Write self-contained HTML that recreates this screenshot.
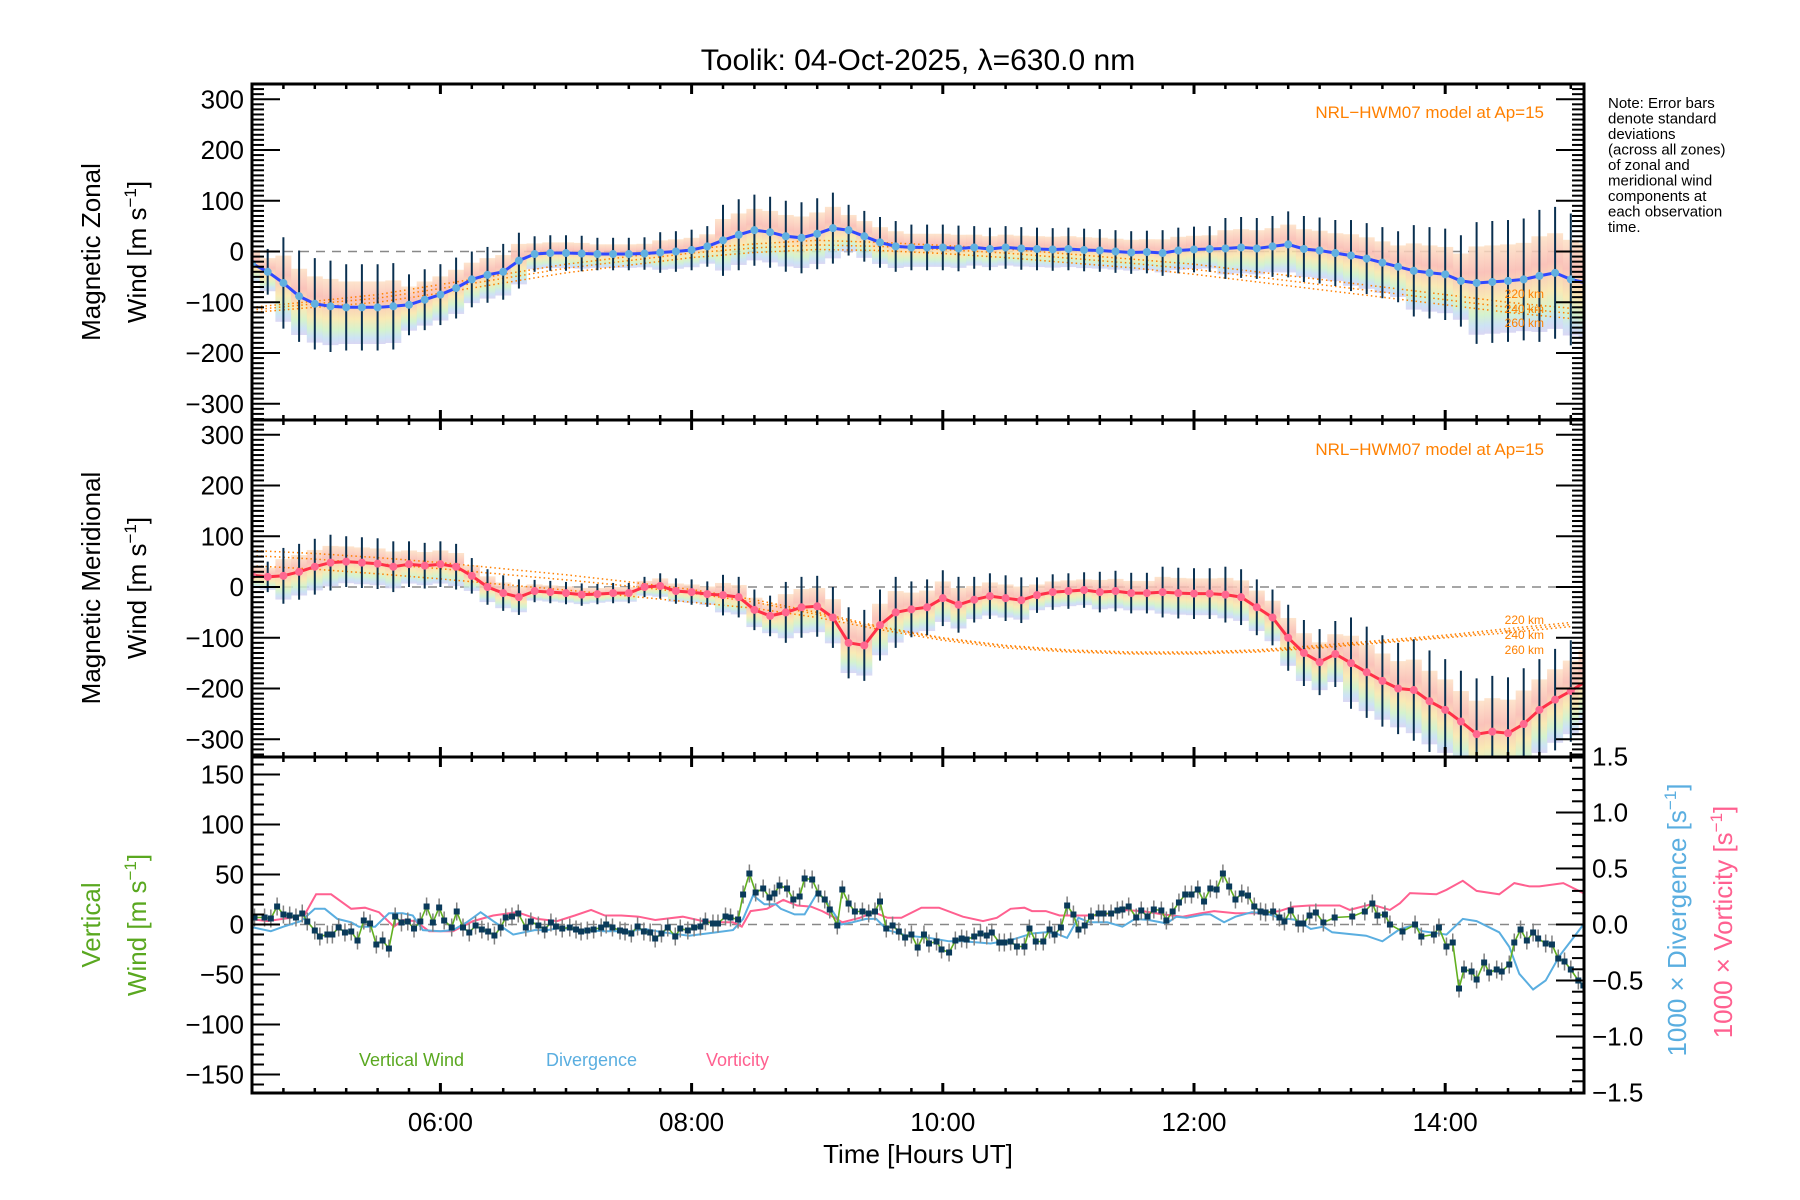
<!DOCTYPE html>
<html><head><meta charset="utf-8"><title>Toolik winds</title>
<style>
html,body{margin:0;padding:0;background:#fff;}
svg{display:block;font-family:"Liberation Sans",sans-serif;}
</style></head>
<body>
<svg id="chart" width="1800" height="1200" viewBox="0 0 1800 1200" xmlns="http://www.w3.org/2000/svg">
<defs>
<linearGradient id="pastel" x1="0" y1="0" x2="0" y2="1">
<stop offset="0" stop-color="#fde0c4"/><stop offset="0.3" stop-color="#f9b8ae"/>
<stop offset="0.6" stop-color="#f8e6a8"/><stop offset="0.78" stop-color="#cdf0c6"/>
<stop offset="0.9" stop-color="#c4def2"/><stop offset="1" stop-color="#d4d0f2"/>
</linearGradient>
<clipPath id="c1"><rect x="252" y="84" width="1332" height="336"/></clipPath>
<clipPath id="c2"><rect x="252" y="420" width="1332" height="337"/></clipPath>
<clipPath id="c3"><rect x="252" y="757" width="1332" height="336"/></clipPath>
</defs>
<text x="918" y="70" font-size="30" text-anchor="middle">Toolik: 04-Oct-2025, λ=630.0 nm</text>
<g id="p1" clip-path="url(#c1)"></g>
<g id="p2" clip-path="url(#c2)"></g>
<g id="p3" clip-path="url(#c3)"></g>
<g id="axes"></g>
<g font-size="26">
<text transform="translate(100,252) rotate(-90)" text-anchor="middle">Magnetic Zonal</text>
<text transform="translate(146,252) rotate(-90)" text-anchor="middle">Wind [m s<tspan dy="-10" font-size="17">−1</tspan><tspan dy="10">]</tspan></text>
<text transform="translate(100,588) rotate(-90)" text-anchor="middle">Magnetic Meridional</text>
<text transform="translate(146,588) rotate(-90)" text-anchor="middle">Wind [m s<tspan dy="-10" font-size="17">−1</tspan><tspan dy="10">]</tspan></text>
<text fill="#5aa820" transform="translate(100,925) rotate(-90)" text-anchor="middle">Vertical</text>
<text fill="#5aa820" transform="translate(146,925) rotate(-90)" text-anchor="middle">Wind [m s<tspan dy="-10" font-size="17">−1</tspan><tspan dy="10">]</tspan></text>
</g>
<g font-size="26">
<text fill="#5aaee0" transform="translate(1686,920) rotate(-90)" text-anchor="middle">1000 × Divergence [s<tspan dy="-10" font-size="17">−1</tspan><tspan dy="10">]</tspan></text>
<text fill="#ff6090" transform="translate(1732,922) rotate(-90)" text-anchor="middle">1000 × Vorticity [s<tspan dy="-10" font-size="17">−1</tspan><tspan dy="10">]</tspan></text>
</g>
<g font-size="15">
<text x="1608" y="108">Note: Error bars</text><text x="1608" y="123.5">denote standard</text>
<text x="1608" y="139">deviations</text><text x="1608" y="154.5">(across all zones)</text>
<text x="1608" y="170">of zonal and</text><text x="1608" y="185.5">meridional wind</text>
<text x="1608" y="201">components at</text><text x="1608" y="216.5">each observation</text>
<text x="1608" y="232">time.</text>
</g>
<g fill="#ff8000" font-size="17">
<text x="1544" y="118" text-anchor="end">NRL−HWM07 model at Ap=15</text>
<text x="1544" y="455" text-anchor="end">NRL−HWM07 model at Ap=15</text>
<g font-size="12">
<text x="1544" y="298" text-anchor="end">220 km</text><text x="1544" y="313" text-anchor="end">240 km</text><text x="1544" y="327" text-anchor="end">260 km</text>
<text x="1544" y="624" text-anchor="end">220 km</text><text x="1544" y="639" text-anchor="end">240 km</text><text x="1544" y="654" text-anchor="end">260 km</text>
</g>
</g>
<g font-size="18">
<text x="359" y="1066" fill="#5aa820">Vertical Wind</text>
<text x="546" y="1066" fill="#5aaee0">Divergence</text>
<text x="706" y="1066" fill="#ff6090">Vorticity</text>
</g>
<text x="918" y="1163" font-size="26" text-anchor="middle">Time [Hours UT]</text>
</svg>
<script>
// ---- data ----
const meanStart = 4.5, meanStep = 0.125, errStep = 0.5;
const zonalMean = [-24,-40,-62,-88,-103,-108,-110,-110,-110,-108,-105,-95,-85,-72,-55,-46,-40,-18,-5,-3,-3,-4,-5,-5,-5,-4,-2,0,3,10,22,33,42,38,30,27,35,46,42,30,18,10,8,8,8,6,8,5,8,6,5,4,5,3,2,0,-2,-1,-3,2,4,5,6,8,6,10,14,5,2,-3,-8,-14,-22,-30,-38,-42,-45,-58,-62,-60,-58,-55,-48,-42,-55,-62];
const zonalErr = [45,90,85,60,55,35,32,40,70,70,50,45,42,42,42,45,60,65,70,90,120,130];
const meridMean = [23,20,22,30,40,48,50,48,46,40,45,42,45,40,22,0,-12,-20,-8,-10,-12,-15,-14,-12,-12,0,2,-8,-10,-14,-16,-20,-45,-57,-50,-40,-38,-60,-110,-115,-75,-50,-44,-40,-22,-35,-25,-18,-22,-26,-16,-10,-8,-6,-10,-8,-12,-12,-10,-12,-13,-13,-15,-20,-40,-60,-100,-130,-148,-132,-150,-168,-185,-200,-203,-225,-242,-265,-290,-285,-288,-270,-242,-222,-205,-185];
const meridErr = [30,55,50,45,35,22,20,25,40,60,70,55,45,35,40,50,55,65,90,100,110,100];
const zonalModel220 = [-110,-98,-85,-65,-45,-25,-10,5,15,22,18,12,5,-5,-15,-25,-40,-55,-70,-85,-100,-112];
const zonalModel240 = [-115,-103,-92,-73,-53,-33,-18,-3,7,13,10,4,-3,-13,-23,-35,-50,-65,-80,-95,-110,-122];
const zonalModel260 = [-120,-110,-100,-82,-62,-42,-27,-12,-2,4,2,-4,-12,-22,-32,-45,-60,-75,-90,-105,-120,-132];
const meridModel220 = [72,66,58,48,36,24,10,-5,-25,-50,-78,-100,-115,-124,-128,-128,-124,-115,-105,-95,-82,-70];
const meridModel240 = [62,55,46,36,25,14,2,-12,-30,-54,-80,-102,-117,-126,-130,-130,-126,-118,-108,-98,-86,-74];
const meridModel260 = [42,35,26,16,5,-6,-18,-30,-42,-60,-84,-105,-120,-128,-132,-132,-128,-120,-110,-100,-90,-78];
const vertTimes = [4.52,4.6,4.65,4.7,4.75,4.8,4.85,4.9,4.94,5.0,5.04,5.1,5.14,5.19,5.24,5.29,5.34,5.39,5.44,5.49,5.54,5.59,5.64,5.69,5.74,5.79,5.84,5.89,5.94,5.99,6.03,6.09,6.13,6.18,6.23,6.28,6.33,6.38,6.43,6.48,6.52,6.57,6.62,6.68,6.72,6.78,6.83,6.88,6.92,6.97,7.03,7.08,7.12,7.17,7.22,7.28,7.32,7.37,7.43,7.47,7.52,7.57,7.62,7.67,7.71,7.76,7.81,7.87,7.91,7.97,8.02,8.07,8.11,8.17,8.21,8.27,8.31,8.37,8.41,8.46,8.51,8.57,8.62,8.66,8.7,8.76,8.81,8.86,8.9,8.96,9.01,9.06,9.1,9.16,9.2,9.25,9.3,9.36,9.41,9.46,9.5,9.55,9.6,9.65,9.7,9.75,9.8,9.85,9.89,9.95,9.99,10.05,10.1,10.15,10.19,10.25,10.3,10.35,10.39,10.45,10.49,10.54,10.59,10.65,10.69,10.74,10.8,10.85,10.89,10.94,10.99,11.04,11.08,11.13,11.18,11.24,11.28,11.34,11.39,11.43,11.48,11.54,11.58,11.63,11.68,11.74,11.78,11.83,11.88,11.93,11.98,12.03,12.08,12.13,12.18,12.23,12.28,12.33,12.38,12.43,12.48,12.53,12.57,12.63,12.68,12.72,12.77,12.83,12.87,12.92,12.97,13.03,13.12,13.26,13.36,13.42,13.46,13.52,13.56,13.66,13.76,13.81,13.91,13.95,14.01,14.06,14.11,14.15,14.21,14.25,14.31,14.35,14.41,14.45,14.51,14.55,14.6,14.65,14.7,14.74,14.8,14.85,14.9,14.95,15.0,15.06,15.1];
const vertValues = [7,7,6,18,10,9,7,11,3,-6,-12,-10,-10,-3,-8,-7,-16,4,1,-20,-16,-24,8,2,3,-4,3,18,2,17,4,-3,13,-3,-8,-1,-5,-7,-11,-3,7,8,11,-3,3,-1,-5,2,-2,-4,-3,-5,-7,-6,-5,-3,0,-3,-6,-7,-9,-2,-7,-8,-14,-9,-3,-12,-4,-6,-3,-2,3,1,1,8,7,5,30,51,32,36,27,31,39,36,25,28,46,45,31,25,15,-1,35,21,13,13,11,13,23,-4,-1,-7,-13,-10,-23,-10,-19,-17,-25,-28,-16,-14,-15,-12,-9,-11,-8,-18,-18,-17,-22,-22,-4,-17,-17,-5,-10,-3,19,10,-5,-1,8,11,11,11,14,15,18,7,14,8,15,14,4,13,22,30,30,35,23,36,35,51,38,25,31,29,18,13,12,13,7,3,14,1,1,9,12,2,7,8,13,21,9,10,0,-7,0,-12,-10,-3,-22,-18,-64,-45,-47,-55,-38,-48,-45,-47,-40,-18,-5,-16,-8,-14,-19,-20,-34,-37,-45,-56,-61];
const vertErr = 9;
const divTimes = [4.48,4.65,4.75,4.89,5.0,5.08,5.18,5.29,5.35,5.48,5.59,5.7,5.78,5.86,6.0,6.1,6.21,6.32,6.42,6.58,6.75,6.85,6.96,7.12,7.31,7.5,7.63,7.77,7.98,8.2,8.33,8.41,8.49,8.58,8.67,8.71,8.82,8.9,9.0,9.06,9.19,9.28,9.39,9.47,9.56,9.72,9.89,10.05,10.16,10.38,10.54,10.71,10.82,10.9,10.99,11.08,11.17,11.31,11.43,11.53,11.64,11.78,11.86,11.94,12.08,12.13,12.24,12.33,12.46,12.57,12.68,12.82,12.93,13.03,13.1,13.37,13.5,13.64,13.74,13.82,14.01,14.14,14.25,14.43,14.51,14.59,14.7,14.8,14.91,15.02,15.1];
const divValues = [-0.02,-0.06,-0.02,0.03,0.14,0.14,0.05,0.02,-0.02,-0.02,0.1,0.1,0.08,-0.05,-0.06,-0.05,0.02,0.11,0.03,-0.09,-0.05,-0.05,-0.03,-0.05,-0.06,-0.06,-0.04,-0.07,-0.1,-0.07,-0.05,0.05,0.26,0.18,0.18,0.14,0.09,0.09,0.28,0.23,0.0,0.02,0.05,0.05,-0.05,-0.1,-0.12,-0.15,-0.15,-0.17,-0.14,-0.08,-0.07,-0.08,-0.12,0.06,0.02,0.02,-0.02,0.05,0.04,0.01,0.07,0.06,0.09,0.09,0.02,0.07,0.11,0.1,0.06,0.04,-0.04,-0.02,-0.07,-0.1,-0.15,-0.04,-0.01,-0.06,-0.09,0.05,0.03,-0.07,-0.2,-0.44,-0.58,-0.5,-0.28,-0.12,0.0];
const vortTimes = [4.48,4.62,4.81,4.92,5.01,5.13,5.29,5.4,5.51,5.63,5.7,5.8,5.91,6.1,6.26,6.42,6.61,6.77,6.93,7.07,7.2,7.31,7.44,7.58,7.71,7.93,8.09,8.25,8.33,8.4,8.47,8.6,8.73,8.84,8.95,9.04,9.14,9.2,9.34,9.45,9.56,9.67,9.83,9.97,10.16,10.32,10.43,10.54,10.65,10.71,10.82,10.93,11.09,11.26,11.42,11.59,11.75,11.91,12.05,12.16,12.33,12.52,12.68,12.79,12.92,13.16,13.24,13.41,13.56,13.64,13.72,13.93,14.01,14.14,14.25,14.43,14.55,14.67,14.75,14.94,15.1];
const vortValues = [0.05,0.03,0.06,0.09,0.27,0.27,0.14,0.15,0.11,-0.02,0.04,0.03,-0.06,-0.06,0.03,0.08,0.11,0.05,0.03,0.08,0.13,0.08,0.08,0.07,0.04,0.07,0.03,0.02,0.02,-0.02,0.12,0.14,0.22,0.17,0.16,0.12,0.06,0.02,0.06,0.11,0.06,0.06,0.15,0.15,0.07,0.03,0.06,0.14,0.15,0.12,0.12,0.08,0.08,0.08,0.13,0.12,0.09,0.07,0.1,0.12,0.1,0.1,0.12,0.16,0.17,0.17,0.13,0.18,0.13,0.19,0.28,0.27,0.31,0.39,0.3,0.27,0.37,0.34,0.34,0.37,0.28];
const xTickLabels = ["06:00","08:00","10:00","12:00","14:00"];
const xTickHours = [6,8,10,12,14];

// ---- scales ----
const NS = "http://www.w3.org/2000/svg";
const X0 = 252, X1 = 1584, T0 = 4.5, PXH = 125.6;
const X = t => X0 + (t - T0) * PXH;
const Y1 = v => 251.5 - v * 0.5075;
const Y2 = v => 587 - v * 0.5075;
const Y3 = v => 924.5 - v * 1.0;
const YR = v => 924.5 - v * 112;
function mk(tag, attrs, parent) {
  const e = document.createElementNS(NS, tag);
  for (const k in attrs) e.setAttribute(k, attrs[k]);
  parent.appendChild(e);
  return e;
}
const p1 = document.getElementById('p1'), p2 = document.getElementById('p2'), p3 = document.getElementById('p3');
const axes = document.getElementById('axes');

function windPanel(g, Y, mean, err, models, lineCol, dotCol, nameBase) {
  const z = mk('line', {x1: X0, x2: X1, y1: Y(0), y2: Y(0), stroke: '#888', 'stroke-width': 1.5, 'stroke-dasharray': '9,7'}, g);
  
  
  mean.forEach((v, i) => {
    const t = meanStart + i * meanStep;
    const e = err[Math.min(err.length - 1, Math.round((t - meanStart) / errStep))];
    const r = mk('rect', {x: X(t) - 8, y: Y(v + 0.6 * e), width: 16, height: Y(v - 0.85 * e) - Y(v + 0.6 * e), fill: 'url(#pastel)', opacity: 0.85}, g);
    
    
  });
  models.forEach((m, k) => {
    const d = m.map((v, i) => (i ? 'L' : 'M') + X(meanStart + i * errStep).toFixed(1) + ' ' + Y(v).toFixed(1)).join(' ');
    const p = mk('path', {d: d, fill: 'none', stroke: '#ff8000', 'stroke-width': 1.5, 'stroke-dasharray': '1.5,3'}, g);
    
    
  });
  mean.forEach((v, i) => {
    const t = meanStart + i * meanStep;
    const e = err[Math.min(err.length - 1, Math.round((t - meanStart) / errStep))];
    const b = mk('line', {x1: X(t), x2: X(t), y1: Y(v + e), y2: Y(v - e), stroke: '#0a3050', 'stroke-width': 2}, g);
    
    
  });
  const d = mean.map((v, i) => (i ? 'L' : 'M') + X(meanStart + i * meanStep).toFixed(1) + ' ' + Y(v).toFixed(1)).join(' ');
  const ml = mk('path', {d: d, fill: 'none', stroke: lineCol, 'stroke-width': 3}, g);
  
  
  mean.forEach((v, i) => {
    const c = mk('circle', {cx: X(meanStart + i * meanStep), cy: Y(v), r: 4, fill: dotCol}, g);
    
    
  });
}
windPanel(p1, Y1, zonalMean, zonalErr, [zonalModel220, zonalModel240, zonalModel260], '#3048ff', '#62b0e0', 'zonal');
windPanel(p2, Y2, meridMean, meridErr, [meridModel220, meridModel240, meridModel260], '#ff3048', '#ff6890', 'meridional');

(function () {
  const z = mk('line', {x1: X0, x2: X1, y1: Y3(0), y2: Y3(0), stroke: '#888', 'stroke-width': 1.5, 'stroke-dasharray': '9,7'}, p3);
  
  
  const dv = vortValues.map((v, i) => (i ? 'L' : 'M') + X(vortTimes[i]).toFixed(1) + ' ' + YR(v).toFixed(1)).join(' ');
  const lv = mk('path', {d: dv, fill: 'none', stroke: '#ff6090', 'stroke-width': 2}, p3);
  
  
  const dd = divValues.map((v, i) => (i ? 'L' : 'M') + X(divTimes[i]).toFixed(1) + ' ' + YR(v).toFixed(1)).join(' ');
  const ld = mk('path', {d: dd, fill: 'none', stroke: '#5aaee0', 'stroke-width': 2}, p3);
  
  
  vertValues.forEach((v, i) => {
    const b = mk('line', {x1: X(vertTimes[i]), x2: X(vertTimes[i]), y1: Y3(v + vertErr), y2: Y3(v - vertErr), stroke: '#808080', 'stroke-width': 1.5}, p3);
    
    
  });
  const dw = vertValues.map((v, i) => (i ? 'L' : 'M') + X(vertTimes[i]).toFixed(1) + ' ' + Y3(v).toFixed(1)).join(' ');
  const lw = mk('path', {d: dw, fill: 'none', stroke: '#62b020', 'stroke-width': 1.6}, p3);
  
  
  vertValues.forEach((v, i) => {
    const s = mk('rect', {x: X(vertTimes[i]) - 3, y: Y3(v) - 3, width: 6, height: 6, fill: '#0a3a5a'}, p3);
    
    
  });
})();

function frame(top, bot, name) {
  const r = mk('rect', {x: X0, y: top, width: X1 - X0, height: bot - top, fill: 'none', stroke: '#000', 'stroke-width': 3}, axes);
  
  
  for (let m = 0; m * 0.25 + T0 <= 15.1; m++) {
    const t = T0 + m * 0.25;
    const major = Math.abs(t - Math.round(t)) < 1e-6 && Math.round(t) % 2 === 0;
    const L = major ? 10 : 5, w = major ? 3 : 2.5;
    mk('line', {x1: X(t), x2: X(t), y1: top, y2: top + L, stroke: '#000', 'stroke-width': w}, axes);
    mk('line', {x1: X(t), x2: X(t), y1: bot, y2: bot - L, stroke: '#000', 'stroke-width': w}, axes);
  }
}
frame(84, 420, 'zonal-frame');
frame(420, 757, 'meridional-frame');
frame(757, 1093, 'vertical-frame');

function yTicks(Y, lo, hi, minor, major, side, labels, top, bot, fmt) {
  const n = Math.round((hi - lo) / minor);
  for (let k = 0; k <= n; k++) {
    const v = lo + k * minor;
    const y = Y(v);
    if (y < top - 1.5 || y > bot + 1.5) continue;
    const isMaj = Math.abs(Math.round(v / major) * major - v) < 1e-6;
    const L = isMaj ? 28 : 12;
    if (side === 'L') mk('line', {x1: X0, x2: X0 + L, y1: y, y2: y, stroke: '#000', 'stroke-width': 2}, axes);
    else mk('line', {x1: X1, x2: X1 - L, y1: y, y2: y, stroke: '#000', 'stroke-width': 2}, axes);
    if (isMaj && labels) {
      const tx = mk('text', {x: side === 'L' ? X0 - 8 : X1 + 8, y: y + 9, 'font-size': 26, 'text-anchor': side === 'L' ? 'end' : 'start'}, axes);
      
      
      tx.textContent = fmt(v);
    }
  }
}
const fmtInt = v => (Math.round(v) < 0 ? '−' + Math.abs(Math.round(v)) : String(Math.round(v)));
const fmtDec = v => { const r = Math.round(v * 10) / 10; return (r < 0 ? '−' : '') + Math.abs(r).toFixed(1); };
yTicks(Y1, -330, 330, 10, 100, 'L', true, 84, 420, fmtInt);
yTicks(Y1, -330, 330, 10, 100, 'R', false, 84, 420, fmtInt);
yTicks(Y2, -330, 330, 10, 100, 'L', true, 420, 757, fmtInt);
yTicks(Y2, -330, 330, 10, 100, 'R', false, 420, 757, fmtInt);
yTicks(Y3, -160, 160, 10, 50, 'L', true, 757, 1093, fmtInt);
yTicks(YR, -1.5, 1.5, 0.1, 0.5, 'R', true, 757, 1093, fmtDec);

xTickHours.forEach((h, i) => {
  const tx = mk('text', {x: X(h), y: 1131, 'font-size': 26, 'text-anchor': 'middle'}, axes);
  
  
  tx.textContent = xTickLabels[i];
});
</script>
</body></html>
